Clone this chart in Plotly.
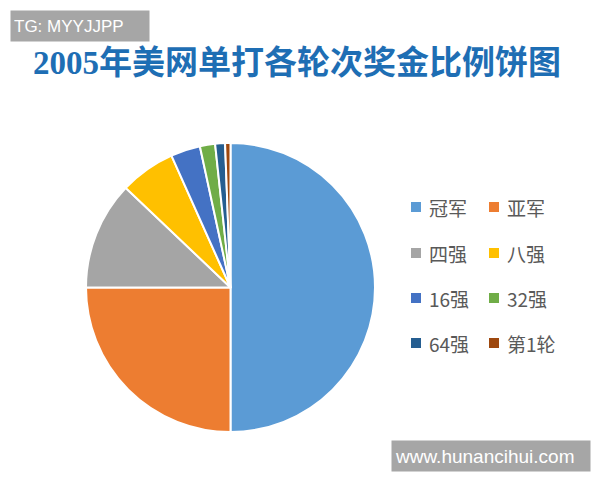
import plotly.graph_objects as go

# Data (share of prize money per round, %)
labels = ["冠军", "亚军", "四强", "八强", "16强", "32强", "64强", "第1轮"]
values = [50.0, 25.0, 12.1, 6.2, 3.3, 1.7, 1.1, 0.6]
colors = ["#5B9BD5", "#ED7D31", "#A5A5A5", "#FFC000", "#4472C4", "#70AD47", "#255E91", "#9E480E"]

title_text = "2005年美网单打各轮次奖金比例饼图"

# page is 600x480; the figure div sits 8px in from the page edge
OX, OY = 8, 8
W, H = 600 - 2 * OX, 480 - 2 * OY


def px(x):
    return (x - OX) / W


def py(y):
    return 1 - (y - OY) / H


fig = go.Figure()
fig.add_trace(go.Pie(
    labels=labels,
    values=values,
    sort=False,
    direction="clockwise",
    rotation=0,
    marker=dict(colors=colors, line=dict(color="white", width=2)),
    textinfo="none",
    hoverinfo="label+percent",
    domain=dict(x=[px(85), px(376)], y=[py(432), py(143)]),
    showlegend=False,
))

# Two-column legend built from the label/colour lists
col_x = [411, 489]
row_y = [207, 253, 298, 343]
shapes = []
annotations = []
for i, (lab, col) in enumerate(zip(labels, colors)):
    r, c = divmod(i, 2)
    x0 = col_x[c]
    yc = row_y[r]
    shapes.append(dict(type="rect", xref="paper", yref="paper",
                       x0=px(x0), x1=px(x0 + 10),
                       y0=py(yc + 5), y1=py(yc - 5),
                       fillcolor=col, line=dict(width=0)))
    annotations.append(dict(text=lab, xref="paper", yref="paper",
                            x=px(x0 + 16), y=py(yc),
                            xanchor="left", yanchor="middle", showarrow=False,
                            font=dict(family="Noto Sans CJK SC", size=19, color="#595959")))

# Watermark boxes
annotations.append(dict(text="TG: MYYJJPP", xref="paper", yref="paper",
                        x=px(10), y=py(10), xanchor="left", yanchor="top",
                        showarrow=False, bgcolor="#A6A6A6", width=132, height=24,
                        borderpad=3, align="left",
                        font=dict(family="Liberation Sans", size=17, color="white")))
annotations.append(dict(text="www.hunancihui.com", xref="paper", yref="paper",
                        x=px(391), y=py(440), xanchor="left", yanchor="top",
                        showarrow=False, bgcolor="#A6A6A6", width=192, height=24,
                        borderpad=3, align="left",
                        font=dict(family="Liberation Sans", size=19, color="white")))

fig.update_layout(
    width=W, height=H,
    margin=dict(l=0, r=0, t=0, b=0),
    paper_bgcolor="white",
    plot_bgcolor="white",
    title=dict(text="<b>" + title_text + "</b>", x=px(297), xanchor="center",
               y=py(62), yanchor="middle", yref="container", xref="container",
               font=dict(family="Liberation Serif, Noto Sans CJK SC", size=33, color="#1E6EB4")),
    shapes=shapes,
    annotations=annotations,
)

fig.write_html("out.html")
